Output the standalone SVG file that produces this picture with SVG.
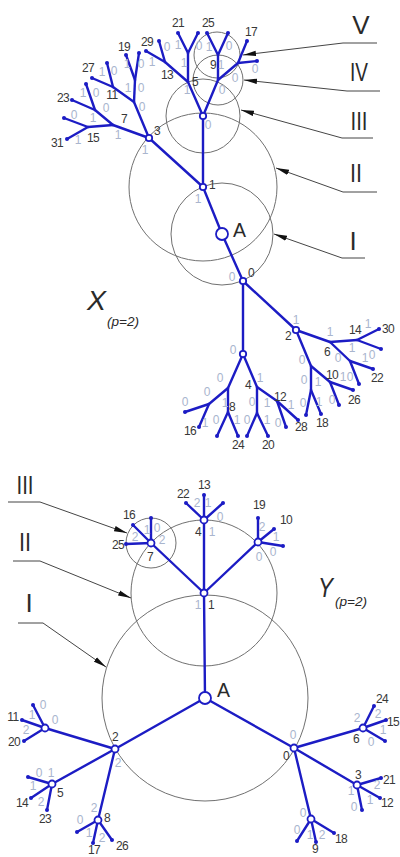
<svg xmlns="http://www.w3.org/2000/svg" width="400" height="857" viewBox="0 0 400 857">
<style>
.c{fill:none;stroke:#707070;stroke-width:1}
.ld{fill:none;stroke:#454545;stroke-width:1}
.e{stroke:#1c1cc4;stroke-width:2.4;stroke-linecap:round}
.h{fill:#fff;stroke:#1c1cc4;stroke-width:1.8}
.d{fill:#1c1cc4}
.t{font-family:"Liberation Sans",Arial,sans-serif;font-size:12px;fill:#383838;text-anchor:middle;letter-spacing:-0.6px}
.l{font-family:"Liberation Sans",Arial,sans-serif;font-size:12px;fill:#a9b5ce;text-anchor:middle}
.R{font-family:"Liberation Sans",Arial,sans-serif;font-size:26px;fill:#2a2a2a;text-anchor:middle}
.big{font-family:"Liberation Sans",Arial,sans-serif;font-size:21px;fill:#2a2a2a}
.it{font-family:"Liberation Sans",Arial,sans-serif;font-style:italic;fill:#2a2a2a}
</style>
<defs>
<marker id="arr" markerUnits="userSpaceOnUse" markerWidth="14" markerHeight="6" refX="13" refY="3" orient="auto">
<path d="M0,0.3 L13,3 L0,5.7 z" fill="#111"/>
</marker>
</defs>

<!-- ===== X tree: zone circles ===== -->
<g id="x-zones">
<circle class="c" cx="222" cy="234" r="51"/>
<circle class="c" cx="203" cy="187" r="74"/>
<circle class="c" cx="203" cy="116" r="37"/>
<circle class="c" cx="218" cy="80" r="25"/>
<circle class="c" cx="217" cy="55" r="23"/>
</g>
<g id="x-leaders">
<polyline class="ld" points="377,43 343,43 243,55" marker-end="url(#arr)"/>
<polyline class="ld" points="380,91 347,91 244,80" marker-end="url(#arr)"/>
<polyline class="ld" points="373,138 342,138 241,110" marker-end="url(#arr)"/>
<polyline class="ld" points="377,192 343,192 276,168" marker-end="url(#arr)"/>
<polyline class="ld" points="365,258 342,258 274,234" marker-end="url(#arr)"/>
<text class="R" x="361" y="34">V</text>
<text class="R" x="359" y="81" textLength="18" lengthAdjust="spacingAndGlyphs">IV</text>
<text class="R" x="359" y="130" textLength="17" lengthAdjust="spacingAndGlyphs">III</text>
<text class="R" x="356" y="182" textLength="12" lengthAdjust="spacingAndGlyphs">II</text>
<text class="R" x="353" y="250">I</text>
</g>

<!-- ===== Y tree: zone circles ===== -->
<g id="y-zones">
<circle class="c" cx="205" cy="698" r="103"/>
<circle class="c" cx="204" cy="593" r="73"/>
<circle class="c" cx="151" cy="543" r="25"/>
</g>
<g id="y-leaders">
<polyline class="ld" points="8,502 40,502 127,533" marker-end="url(#arr)"/>
<polyline class="ld" points="13,561 40,561 131,598" marker-end="url(#arr)"/>
<polyline class="ld" points="18,623 43,623 106,667" marker-end="url(#arr)"/>
<text class="R" x="25" y="494" textLength="17" lengthAdjust="spacingAndGlyphs">III</text>
<text class="R" x="25" y="551" textLength="12" lengthAdjust="spacingAndGlyphs">II</text>
<text class="R" x="29" y="612">I</text>
</g>

<!-- ===== connectors ===== -->
<g id="connectors">
<!-- X upper -->
<line class="e" x1="203" y1="187" x2="222" y2="234"/>
<line class="e" x1="222" y1="234" x2="243" y2="281"/>
<line class="e" x1="203" y1="187" x2="149" y2="138"/>
<line class="e" x1="203" y1="187" x2="203" y2="116"/>
<line class="e" x1="203" y1="116" x2="188" y2="82"/>
<line class="e" x1="188" y1="82" x2="165" y2="62"/>
<line class="e" x1="165" y1="62" x2="159" y2="41"/>
<line class="e" x1="165" y1="62" x2="146" y2="51"/>
<line class="e" x1="188" y1="82" x2="188" y2="53"/>
<line class="e" x1="188" y1="53" x2="178" y2="33"/>
<line class="e" x1="188" y1="53" x2="198" y2="33"/>
<line class="e" x1="203" y1="116" x2="218" y2="80"/>
<line class="e" x1="218" y1="80" x2="218" y2="55"/>
<line class="e" x1="218" y1="55" x2="207" y2="33"/>
<line class="e" x1="218" y1="55" x2="228" y2="33"/>
<line class="e" x1="218" y1="80" x2="238" y2="63"/>
<line class="e" x1="238" y1="63" x2="247" y2="41"/>
<line class="e" x1="238" y1="63" x2="257" y2="61"/>
<line class="e" x1="149" y1="138" x2="113" y2="125"/>
<line class="e" x1="113" y1="125" x2="88" y2="127"/>
<line class="e" x1="88" y1="127" x2="64" y2="118"/>
<line class="e" x1="88" y1="127" x2="67" y2="139"/>
<line class="e" x1="113" y1="125" x2="95" y2="110"/>
<line class="e" x1="95" y1="110" x2="72" y2="100"/>
<line class="e" x1="95" y1="110" x2="86" y2="84"/>
<line class="e" x1="149" y1="138" x2="134" y2="102"/>
<line class="e" x1="134" y1="102" x2="113" y2="87"/>
<line class="e" x1="113" y1="87" x2="92" y2="78"/>
<line class="e" x1="113" y1="87" x2="107" y2="63"/>
<line class="e" x1="134" y1="102" x2="135" y2="80"/>
<line class="e" x1="135" y1="80" x2="126" y2="55"/>
<line class="e" x1="135" y1="80" x2="139" y2="53"/>
<!-- X lower -->
<line class="e" x1="243" y1="281" x2="296" y2="330"/>
<line class="e" x1="243" y1="281" x2="243" y2="354"/>
<line class="e" x1="296" y1="330" x2="330" y2="342"/>
<line class="e" x1="330" y1="342" x2="357" y2="340"/>
<line class="e" x1="357" y1="340" x2="379" y2="329"/>
<line class="e" x1="357" y1="340" x2="381" y2="349"/>
<line class="e" x1="330" y1="342" x2="350" y2="361"/>
<line class="e" x1="350" y1="361" x2="373" y2="369"/>
<line class="e" x1="350" y1="361" x2="359" y2="384"/>
<line class="e" x1="296" y1="330" x2="311" y2="366"/>
<line class="e" x1="311" y1="366" x2="330" y2="382"/>
<line class="e" x1="330" y1="382" x2="353" y2="390"/>
<line class="e" x1="330" y1="382" x2="339" y2="405"/>
<line class="e" x1="311" y1="366" x2="311" y2="390"/>
<line class="e" x1="311" y1="390" x2="306" y2="415"/>
<line class="e" x1="311" y1="390" x2="321" y2="414"/>
<line class="e" x1="243" y1="354" x2="228" y2="388"/>
<line class="e" x1="228" y1="388" x2="209" y2="404"/>
<line class="e" x1="209" y1="404" x2="185" y2="412"/>
<line class="e" x1="209" y1="404" x2="199" y2="427"/>
<line class="e" x1="228" y1="388" x2="228" y2="412"/>
<line class="e" x1="228" y1="412" x2="217" y2="436"/>
<line class="e" x1="228" y1="412" x2="238" y2="436"/>
<line class="e" x1="243" y1="354" x2="257" y2="387"/>
<line class="e" x1="257" y1="387" x2="257" y2="413"/>
<line class="e" x1="257" y1="413" x2="247" y2="436"/>
<line class="e" x1="257" y1="413" x2="268" y2="436"/>
<line class="e" x1="257" y1="387" x2="277" y2="401"/>
<line class="e" x1="277" y1="401" x2="286" y2="427"/>
<line class="e" x1="277" y1="401" x2="298" y2="420"/>
<!-- Y -->
<line class="e" x1="205" y1="698" x2="204" y2="593"/>
<line class="e" x1="205" y1="698" x2="115" y2="749"/>
<line class="e" x1="205" y1="698" x2="294" y2="748"/>
<line class="e" x1="204" y1="593" x2="204" y2="520"/>
<line class="e" x1="204" y1="593" x2="151" y2="543"/>
<line class="e" x1="204" y1="593" x2="258" y2="542"/>
<line class="e" x1="204" y1="520" x2="204" y2="495"/>
<line class="e" x1="204" y1="520" x2="186" y2="503"/>
<line class="e" x1="204" y1="520" x2="223" y2="503"/>
<line class="e" x1="151" y1="543" x2="151" y2="518"/>
<line class="e" x1="151" y1="543" x2="133" y2="525"/>
<line class="e" x1="151" y1="543" x2="126" y2="544"/>
<line class="e" x1="258" y1="542" x2="258" y2="518"/>
<line class="e" x1="258" y1="542" x2="274" y2="529"/>
<line class="e" x1="258" y1="542" x2="283" y2="546"/>
<line class="e" x1="115" y1="749" x2="45" y2="728"/>
<line class="e" x1="115" y1="749" x2="52" y2="784"/>
<line class="e" x1="115" y1="749" x2="98" y2="820"/>
<line class="e" x1="45" y1="728" x2="33" y2="705"/>
<line class="e" x1="45" y1="728" x2="22" y2="720"/>
<line class="e" x1="45" y1="728" x2="24" y2="741"/>
<line class="e" x1="52" y1="784" x2="28" y2="777"/>
<line class="e" x1="52" y1="784" x2="31" y2="798"/>
<line class="e" x1="52" y1="784" x2="47" y2="810"/>
<line class="e" x1="98" y1="820" x2="77" y2="832"/>
<line class="e" x1="98" y1="820" x2="93" y2="843"/>
<line class="e" x1="98" y1="820" x2="112" y2="840"/>
<line class="e" x1="294" y1="748" x2="363" y2="728"/>
<line class="e" x1="294" y1="748" x2="357" y2="785"/>
<line class="e" x1="294" y1="748" x2="311" y2="819"/>
<line class="e" x1="363" y1="728" x2="374" y2="706"/>
<line class="e" x1="363" y1="728" x2="386" y2="720"/>
<line class="e" x1="363" y1="728" x2="385" y2="741"/>
<line class="e" x1="357" y1="785" x2="381" y2="778"/>
<line class="e" x1="357" y1="785" x2="380" y2="798"/>
<line class="e" x1="357" y1="785" x2="362" y2="810"/>
<line class="e" x1="311" y1="819" x2="297" y2="841"/>
<line class="e" x1="311" y1="819" x2="316" y2="842"/>
<line class="e" x1="311" y1="819" x2="334" y2="833"/>
</g>

<!-- ===== X nodes ===== -->
<g id="x-A"><circle class="h" cx="222" cy="234" r="6" stroke-width="2.2"/><text class="big" x="233" y="237" textLength="13" lengthAdjust="spacingAndGlyphs">A</text></g>
<g id="x-1"><circle class="h" cx="203" cy="187" r="3.2"/><text class="t" x="212" y="189" font-size="10">1</text></g>
<g id="x-0"><circle class="h" cx="243" cy="281" r="3.2"/><text class="t" x="251" y="277">0</text></g>
<g id="x-3"><circle class="h" cx="149" cy="138" r="3.2"/><text class="t" x="157" y="135">3</text></g>
<g id="x-top"><circle class="h" cx="203" cy="116" r="3.2"/></g>
<g id="x-2"><circle class="h" cx="296" cy="330" r="3.2"/><text class="t" x="288" y="340">2</text></g>
<g id="x-n4"><circle class="h" cx="243" cy="354" r="3.2"/></g>
<g id="x-7"><text class="t" x="124" y="123">7</text></g>
<g id="x-15"><text class="t" x="93" y="142">15</text></g>
<g id="x-11"><text class="t" x="112" y="99">11</text></g>
<g id="x-13"><text class="t" x="167" y="79">13</text></g>
<g id="x-5"><text class="t" x="195" y="86">5</text></g>
<g id="x-9"><text class="t" x="213" y="69">9</text></g>
<g id="x-6"><text class="t" x="327" y="356">6</text></g>
<g id="x-14"><text class="t" x="355" y="334">14</text></g>
<g id="x-10"><text class="t" x="332" y="379">10</text></g>
<g id="x-4"><text class="t" x="248" y="389">4</text></g>
<g id="x-12"><text class="t" x="280" y="401">12</text></g>
<g id="x-8"><text class="t" x="232" y="411">8</text></g>
<!-- X leaves -->
<g id="x-leaf31"><circle class="d" cx="67" cy="139" r="2"/><text class="t" x="57" y="147">31</text></g>
<g id="x-leafa"><circle class="d" cx="64" cy="118" r="2"/></g>
<g id="x-leaf23"><circle class="d" cx="72" cy="100" r="2"/><text class="t" x="63" y="102">23</text></g>
<g id="x-leafb"><circle class="d" cx="86" cy="84" r="2"/></g>
<g id="x-leaf27"><circle class="d" cx="92" cy="78" r="2"/><text class="t" x="88" y="72">27</text></g>
<g id="x-leafc"><circle class="d" cx="107" cy="63" r="2"/></g>
<g id="x-leaf19"><circle class="d" cx="126" cy="55" r="2"/><text class="t" x="124" y="51">19</text></g>
<g id="x-leafd"><circle class="d" cx="139" cy="53" r="2"/></g>
<g id="x-leaf29"><circle class="d" cx="146" cy="51" r="2"/><text class="t" x="147" y="46">29</text></g>
<g id="x-leafe"><circle class="d" cx="159" cy="41" r="2"/></g>
<g id="x-leaf21"><circle class="d" cx="178" cy="33" r="2"/><text class="t" x="178" y="27">21</text></g>
<g id="x-leaff"><circle class="d" cx="198" cy="33" r="2"/></g>
<g id="x-leaf25"><circle class="d" cx="207" cy="33" r="2"/><text class="t" x="208" y="27">25</text></g>
<g id="x-leafg"><circle class="d" cx="228" cy="33" r="2"/></g>
<g id="x-leaf17"><circle class="d" cx="247" cy="41" r="2"/><text class="t" x="251" y="36">17</text></g>
<g id="x-leafh"><circle class="d" cx="257" cy="61" r="2"/></g>
<g id="x-leaf30"><circle class="d" cx="379" cy="329" r="2"/><text class="t" x="388" y="333">30</text></g>
<g id="x-leafi"><circle class="d" cx="381" cy="349" r="2"/></g>
<g id="x-leaf22"><circle class="d" cx="373" cy="369" r="2"/><text class="t" x="377" y="382">22</text></g>
<g id="x-leafj"><circle class="d" cx="359" cy="384" r="2"/></g>
<g id="x-leaf26"><circle class="d" cx="353" cy="390" r="2"/><text class="t" x="354" y="404">26</text></g>
<g id="x-leafk"><circle class="d" cx="339" cy="405" r="2"/></g>
<g id="x-leafl"><circle class="d" cx="306" cy="415" r="2"/></g>
<g id="x-leaf18"><circle class="d" cx="321" cy="414" r="2"/><text class="t" x="322" y="427">18</text></g>
<g id="x-leafm"><circle class="d" cx="185" cy="412" r="2"/></g>
<g id="x-leaf16"><circle class="d" cx="199" cy="427" r="2"/><text class="t" x="190" y="435">16</text></g>
<g id="x-leafn"><circle class="d" cx="217" cy="436" r="2"/></g>
<g id="x-leaf24"><circle class="d" cx="238" cy="436" r="2"/><text class="t" x="238" y="449">24</text></g>
<g id="x-leafo"><circle class="d" cx="247" cy="436" r="2"/></g>
<g id="x-leaf20"><circle class="d" cx="268" cy="436" r="2"/><text class="t" x="268" y="449">20</text></g>
<g id="x-leafp"><circle class="d" cx="286" cy="427" r="2"/></g>
<g id="x-leaf28"><circle class="d" cx="298" cy="420" r="2"/><text class="t" x="301" y="431">28</text></g>

<!-- X edge labels -->
<g id="x-edge-labels">
<text class="l" x="74" y="119">0</text>
<text class="l" x="93" y="122">1</text>
<text class="l" x="78" y="144">1</text>
<text class="l" x="118" y="139">1</text>
<text class="l" x="145" y="154">1</text>
<text class="l" x="83" y="97">1</text>
<text class="l" x="96" y="97">0</text>
<text class="l" x="106" y="112">0</text>
<text class="l" x="102" y="76">1</text>
<text class="l" x="114" y="75">0</text>
<text class="l" x="128" y="92">1</text>
<text class="l" x="141" y="92">0</text>
<text class="l" x="142" y="111">0</text>
<text class="l" x="127" y="68">1</text>
<text class="l" x="141" y="68">0</text>
<text class="l" x="167" y="51">0</text>
<text class="l" x="178" y="49">1</text>
<text class="l" x="152" y="66">1</text>
<text class="l" x="199" y="50">0</text>
<text class="l" x="209" y="51">1</text>
<text class="l" x="229" y="50">0</text>
<text class="l" x="184" y="67">1</text>
<text class="l" x="187" y="94">1</text>
<text class="l" x="221" y="69">1</text>
<text class="l" x="222" y="94">0</text>
<text class="l" x="235" y="82">0</text>
<text class="l" x="255" y="73">0</text>
<text class="l" x="208" y="129">0</text>
<text class="l" x="198" y="203">1</text>
<text class="l" x="232" y="281">0</text>
<text class="l" x="233" y="354">0</text>
<text class="l" x="296" y="324">1</text>
<text class="l" x="330" y="336">1</text>
<text class="l" x="368" y="328">1</text>
<text class="l" x="352" y="352">1</text>
<text class="l" x="365" y="362">1</text>
<text class="l" x="372" y="359">0</text>
<text class="l" x="338" y="362">0</text>
<text class="l" x="302" y="364">0</text>
<text class="l" x="343" y="381">1</text>
<text class="l" x="350" y="381">0</text>
<text class="l" x="304" y="384">0</text>
<text class="l" x="318" y="386">1</text>
<text class="l" x="319" y="406">1</text>
<text class="l" x="332" y="404">0</text>
<text class="l" x="291" y="409">1</text>
<text class="l" x="303" y="407">0</text>
<text class="l" x="278" y="427">0</text>
<text class="l" x="220" y="382">0</text>
<text class="l" x="260" y="382">1</text>
<text class="l" x="207" y="396">0</text>
<text class="l" x="185" y="406">0</text>
<text class="l" x="225" y="407">1</text>
<text class="l" x="205" y="427">1</text>
<text class="l" x="216" y="424">0</text>
<text class="l" x="237" y="424">1</text>
<text class="l" x="247" y="424">0</text>
<text class="l" x="267" y="424">1</text>
<text class="l" x="252" y="406">0</text>
<text class="l" x="267" y="407">1</text>
</g>
<g id="x-title">
<text class="it" x="87" y="310" font-size="28" textLength="19" lengthAdjust="spacingAndGlyphs">X</text>
<text class="it" x="107" y="326" font-size="13" textLength="32" lengthAdjust="spacingAndGlyphs">(p=2)</text>
</g>

<!-- ===== Y nodes ===== -->
<g id="y-A"><circle class="h" cx="205" cy="698" r="6" stroke-width="2.2"/><text class="big" x="217" y="697" textLength="13" lengthAdjust="spacingAndGlyphs">A</text></g>
<g id="y-1"><circle class="h" cx="204" cy="593" r="3.5"/><text class="t" x="211" y="609">1</text></g>
<g id="y-4"><circle class="h" cx="204" cy="520" r="3.5"/><text class="t" x="198" y="536">4</text></g>
<g id="y-7"><circle class="h" cx="151" cy="543" r="3.5"/><text class="t" x="150" y="561">7</text></g>
<g id="y-n"><circle class="h" cx="258" cy="542" r="3.5"/></g>
<g id="y-2"><circle class="h" cx="115" cy="749" r="3.5"/><text class="t" x="115" y="741">2</text></g>
<g id="y-n2a"><circle class="h" cx="45" cy="728" r="3.5"/></g>
<g id="y-5"><circle class="h" cx="52" cy="784" r="3.5"/><text class="t" x="60" y="797">5</text></g>
<g id="y-8"><circle class="h" cx="98" cy="820" r="3.5"/><text class="t" x="107" y="822">8</text></g>
<g id="y-0"><circle class="h" cx="294" cy="748" r="3.5"/><text class="t" x="286" y="760">0</text></g>
<g id="y-6"><circle class="h" cx="363" cy="728" r="3.5"/><text class="t" x="356" y="743">6</text></g>
<g id="y-3"><circle class="h" cx="357" cy="785" r="3.5"/><text class="t" x="358" y="779">3</text></g>
<g id="y-9"><circle class="h" cx="311" cy="819" r="3.5"/><text class="t" x="315" y="853">9</text></g>
<!-- Y leaves -->
<g id="y-leaf13"><circle class="d" cx="204" cy="495" r="2"/><text class="t" x="204" y="489">13</text></g>
<g id="y-leaf22"><circle class="d" cx="186" cy="503" r="2"/><text class="t" x="183" y="498">22</text></g>
<g id="y-leafa"><circle class="d" cx="223" cy="503" r="2"/></g>
<g id="y-leafb"><circle class="d" cx="151" cy="518" r="2"/></g>
<g id="y-leaf16"><circle class="d" cx="133" cy="525" r="2"/><text class="t" x="129" y="519">16</text></g>
<g id="y-leaf25"><circle class="d" cx="126" cy="544" r="2"/><text class="t" x="118" y="549">25</text></g>
<g id="y-leaf19"><circle class="d" cx="258" cy="518" r="2"/><text class="t" x="259" y="509">19</text></g>
<g id="y-leaf10"><circle class="d" cx="274" cy="529" r="2"/><text class="t" x="286" y="524">10</text></g>
<g id="y-leafc"><circle class="d" cx="283" cy="546" r="2"/></g>
<g id="y-leafd"><circle class="d" cx="33" cy="705" r="2"/></g>
<g id="y-leaf11"><circle class="d" cx="22" cy="720" r="2"/><text class="t" x="13" y="721">11</text></g>
<g id="y-leaf20"><circle class="d" cx="24" cy="741" r="2"/><text class="t" x="14" y="746">20</text></g>
<g id="y-leafe"><circle class="d" cx="28" cy="777" r="2"/></g>
<g id="y-leaf14"><circle class="d" cx="31" cy="798" r="2"/><text class="t" x="22" y="807">14</text></g>
<g id="y-leaf23"><circle class="d" cx="47" cy="810" r="2"/><text class="t" x="45" y="823">23</text></g>
<g id="y-leaff"><circle class="d" cx="77" cy="832" r="2"/></g>
<g id="y-leaf17"><circle class="d" cx="93" cy="843" r="2"/><text class="t" x="94" y="854" font-size="11.5">17</text></g>
<g id="y-leaf26"><circle class="d" cx="112" cy="840" r="2"/><text class="t" x="122" y="850">26</text></g>
<g id="y-leaf24"><circle class="d" cx="374" cy="706" r="2"/><text class="t" x="382" y="703">24</text></g>
<g id="y-leaf15"><circle class="d" cx="386" cy="720" r="2"/><text class="t" x="393" y="726">15</text></g>
<g id="y-leafg"><circle class="d" cx="385" cy="741" r="2"/></g>
<g id="y-leaf21"><circle class="d" cx="381" cy="778" r="2"/><text class="t" x="389" y="784">21</text></g>
<g id="y-leaf12"><circle class="d" cx="380" cy="798" r="2"/><text class="t" x="387" y="807">12</text></g>
<g id="y-leafh"><circle class="d" cx="362" cy="810" r="2"/></g>
<g id="y-leafi"><circle class="d" cx="297" cy="841" r="2"/></g>
<g id="y-leafj"><circle class="d" cx="316" cy="842" r="2"/></g>
<g id="y-leaf18"><circle class="d" cx="334" cy="833" r="2"/><text class="t" x="341" y="843">18</text></g>

<!-- Y edge labels -->
<g id="y-edge-labels">
<text class="l" x="198" y="609">1</text>
<text class="l" x="212" y="536">1</text>
<text class="l" x="162" y="544">2</text>
<text class="l" x="197" y="507">2</text>
<text class="l" x="208" y="507">1</text>
<text class="l" x="220" y="521">0</text>
<text class="l" x="135" y="541">2</text>
<text class="l" x="147" y="534">1</text>
<text class="l" x="157" y="532">0</text>
<text class="l" x="262" y="531">2</text>
<text class="l" x="276" y="541">1</text>
<text class="l" x="259" y="561">0</text>
<text class="l" x="273" y="556">0</text>
<text class="l" x="55" y="724">0</text>
<text class="l" x="43" y="709">0</text>
<text class="l" x="32" y="719">1</text>
<text class="l" x="26" y="734">2</text>
<text class="l" x="39" y="777">0</text>
<text class="l" x="51" y="777">1</text>
<text class="l" x="33" y="790">1</text>
<text class="l" x="41" y="806">2</text>
<text class="l" x="118" y="767">2</text>
<text class="l" x="94" y="812">2</text>
<text class="l" x="80" y="824">0</text>
<text class="l" x="89" y="837">1</text>
<text class="l" x="102" y="842">2</text>
<text class="l" x="293" y="739">0</text>
<text class="l" x="357" y="722">2</text>
<text class="l" x="378" y="718">2</text>
<text class="l" x="383" y="734">1</text>
<text class="l" x="371" y="746">0</text>
<text class="l" x="351" y="795">1</text>
<text class="l" x="377" y="789">2</text>
<text class="l" x="370" y="804">1</text>
<text class="l" x="354" y="811">0</text>
<text class="l" x="303" y="817">0</text>
<text class="l" x="297" y="834">0</text>
<text class="l" x="310" y="839">1</text>
<text class="l" x="322" y="839">2</text>
</g>
<g id="y-title">
<text class="it" x="318" y="597" font-size="28" textLength="15" lengthAdjust="spacingAndGlyphs">Y</text>
<text class="it" x="335" y="606" font-size="13" textLength="32" lengthAdjust="spacingAndGlyphs">(p=2)</text>
</g>
</svg>
